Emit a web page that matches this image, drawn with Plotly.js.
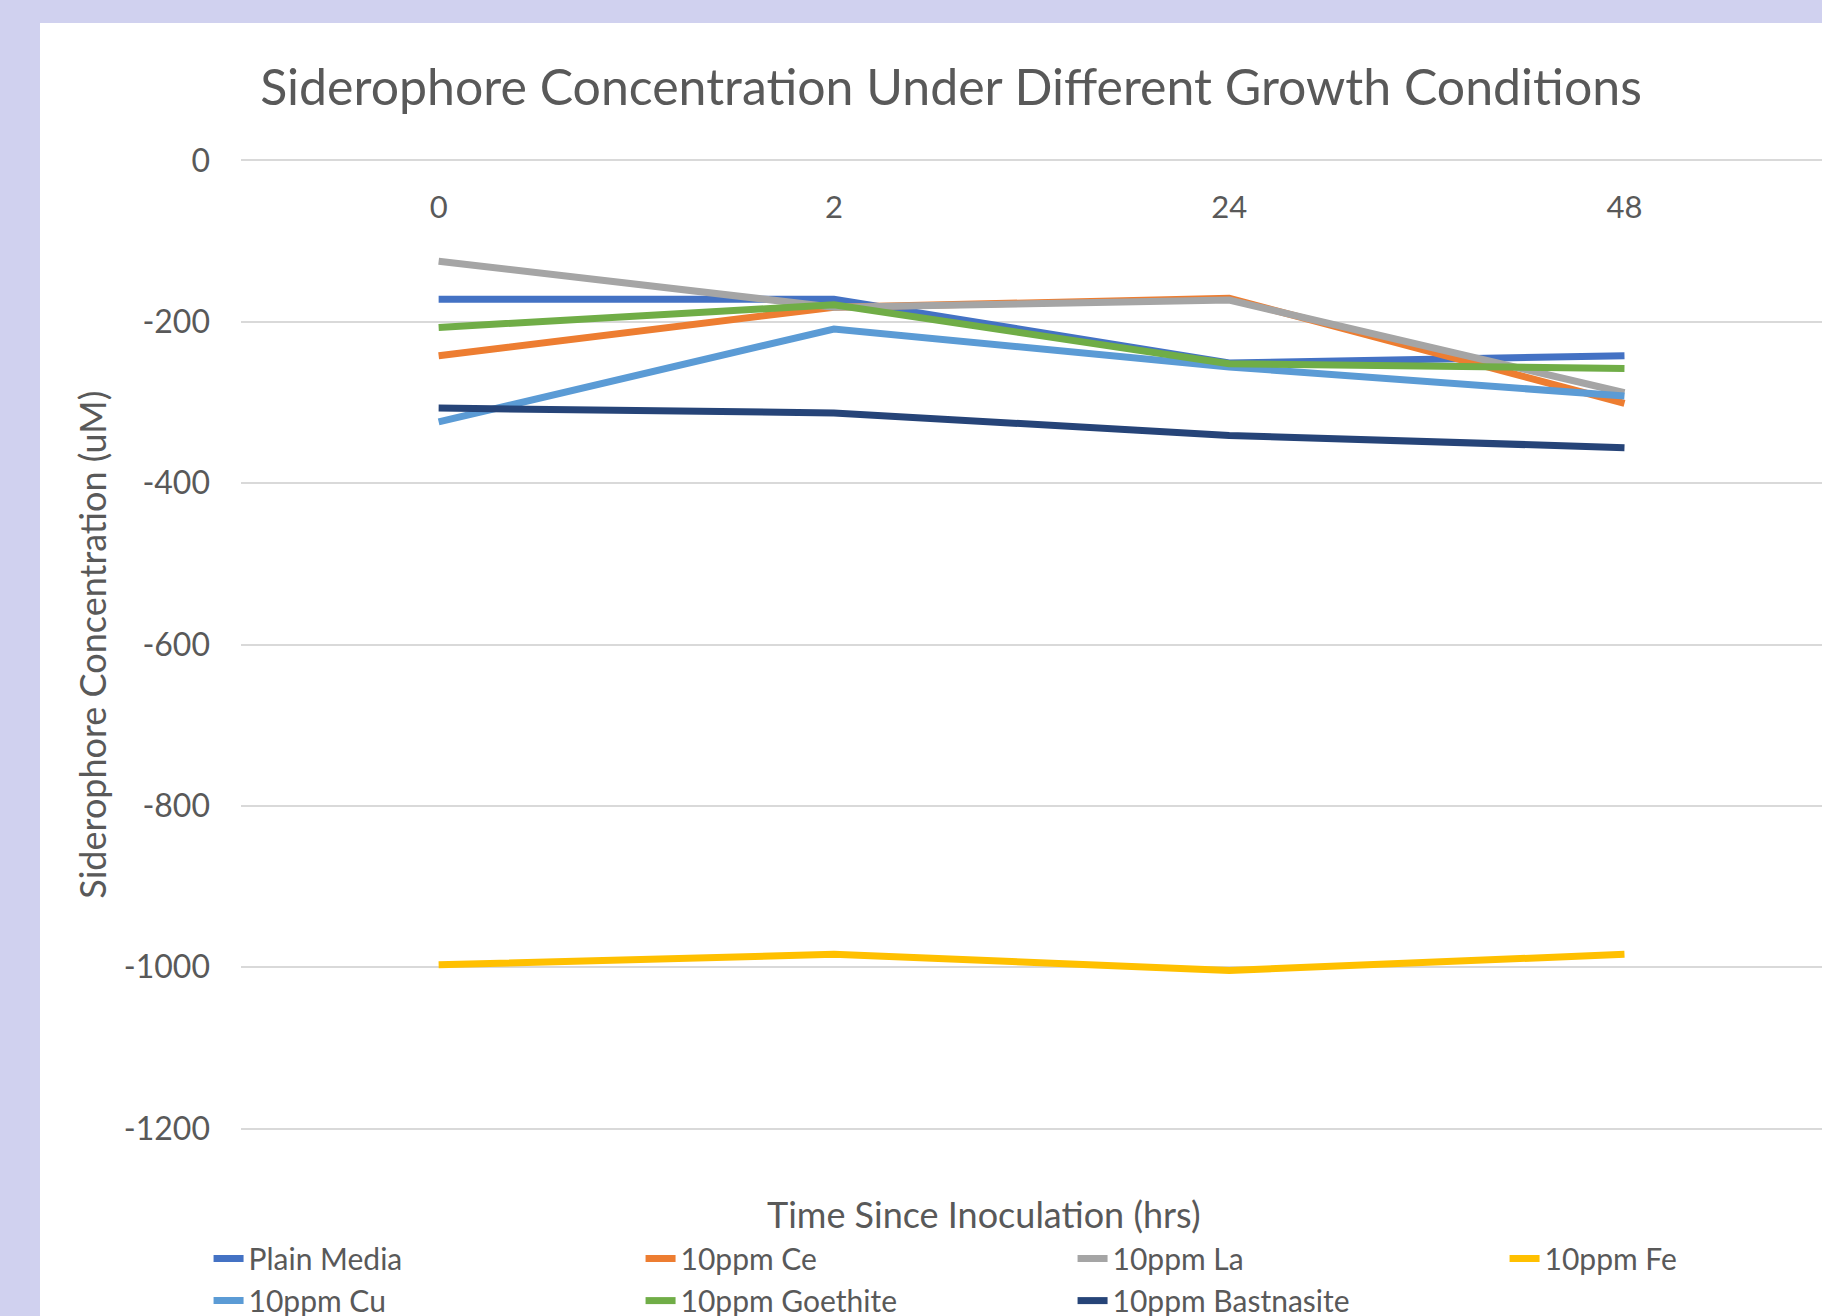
<!DOCTYPE html>
<html>
<head>
<meta charset="utf-8">
<script src="https://cdn.plot.ly/plotly-3.0.1.min.js"></script>
<style>
  html, body { margin: 0; padding: 0; width: 1822px; height: 1316px; overflow: hidden; background: #d0d1ef; }
  #chart { position: absolute; left: 40px; top: 23px; width: 1960px; height: 1293px; background: #ffffff; }
</style>
</head>
<body>
<div id="chart"></div>
<script>
// Time points (category labels)
const hours = ["0", "2", "24", "48"];

// Y tick values and labels (hyphen minus, as in the reference)
const yTickVals = [0, -200, -400, -600, -800, -1000, -1200];
const yTickText = ["0", "-200", "-400", "-600", "-800", "-1000", "-1200"];

// Series values (uM)
const plainMedia = [-172, -172, -251, -242];
const ppmCe = [-242, -182, -171, -301];
const ppmLa = [-125, -182, -173, -288];
const ppmFe = [-997, -984, -1004, -984];
const ppmCu = [-324, -209, -256, -292];
const ppmGoethite = [-207, -179, -252, -258];
const ppmBastnasite = [-307, -313, -341, -356];

const seriesNames = ["Plain Media", "10ppm Ce", "10ppm La", "10ppm Fe", "10ppm Cu", "10ppm Goethite", "10ppm Bastnasite"];
const seriesValues = [plainMedia, ppmCe, ppmLa, ppmFe, ppmCu, ppmGoethite, ppmBastnasite];
const seriesColors = ["#4472C4", "#ED7D31", "#A5A5A5", "#FFC000", "#5B9BD5", "#70AD47", "#264478"];

const FONT = "Lato, 'Open Sans', sans-serif";
const GREY = "#595959";

const traces = seriesNames.map((name, i) => ({
  type: "scatter",
  mode: "lines",
  name: name,
  x: hours,
  y: seriesValues[i],
  line: { color: seriesColors[i], width: 7 },
  hoverinfo: "x+y+name"
}));

const W = 1960, H = 1293;

const layout = {
  width: W,
  height: H,
  paper_bgcolor: "#ffffff",
  plot_bgcolor: "#ffffff",
  margin: { l: 201, r: 0, t: 135, b: 185 },
  font: { family: FONT, color: GREY },
  title: {
    text: "Siderophore Concentration Under Different Growth Conditions",
    font: { family: FONT, size: 50, color: GREY },
    xref: "container", x: 911 / W, xanchor: "center",
    yref: "container", y: 0.9505, yanchor: "middle"
  },
  xaxis: {
    type: "category",
    categoryorder: "array",
    categoryarray: hours,
    range: [-0.5, 3.95],
    side: "bottom",
    anchor: "free",
    position: 0.9712,
    showgrid: false,
    showline: false,
    zeroline: false,
    ticks: "",
    tickfont: { family: FONT, size: 31, color: GREY },
    fixedrange: true
  },
  yaxis: {
    range: [-1203, 3],
    tickmode: "array",
    tickvals: yTickVals,
    ticktext: yTickText,
    showgrid: true,
    gridcolor: "#d9d9d9",
    gridwidth: 2,
    zeroline: false,
    showline: false,
    ticks: "",
    ticklabelstandoff: 30,
    tickfont: { family: FONT, size: 32, color: GREY },
    fixedrange: true
  },
  annotations: [
    {
      text: "Siderophore Concentration (uM)",
      xref: "paper", yref: "paper",
      x: -0.0849, y: 0.4995,
      xanchor: "center", yanchor: "middle",
      textangle: -90,
      showarrow: false,
      font: { family: FONT, size: 36, color: GREY }
    },
    {
      text: "Time Since Inoculation (hrs)",
      xref: "paper", yref: "paper",
      x: 0.4224, y: -0.0853,
      xanchor: "center", yanchor: "middle",
      showarrow: false,
      font: { family: FONT, size: 36, color: GREY }
    }
  ],
  showlegend: true,
  legend: {
    orientation: "h",
    xref: "container", yref: "container",
    x: 0.0860, y: 0.0645,
    xanchor: "left", yanchor: "top",
    entrywidth: 387,
    entrywidthmode: "pixels",
    font: { family: FONT, size: 30, color: GREY },
    bgcolor: "rgba(0,0,0,0)",
    traceorder: "normal"
  }
};

Plotly.newPlot("chart", traces, layout, { displayModeBar: false, staticPlot: true });
</script>
</body>
</html>
